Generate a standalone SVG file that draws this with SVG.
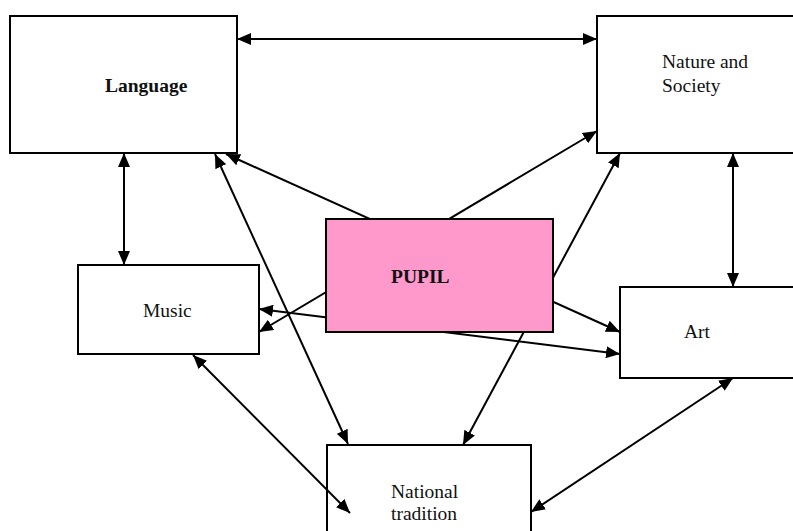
<svg xmlns="http://www.w3.org/2000/svg" width="793" height="531" viewBox="0 0 793 531">
  <style>
    .box { fill: #ffffff; stroke: #000000; stroke-width: 2; }
    .pupil { fill: #ff99cc; stroke: #000000; stroke-width: 2; }
    .lbl { font-family: "Liberation Serif", "Times New Roman", serif; font-size: 19.5px; fill: #111111; }
    .bold { font-weight: bold; }
    .link { stroke: #000000; stroke-width: 2; fill: none; marker-start: url(#head); marker-end: url(#head); }
  </style>
  <defs>
    <marker id="head" viewBox="0 0 14 12" refX="14" refY="6" markerWidth="14" markerHeight="12" markerUnits="userSpaceOnUse" orient="auto-start-reverse">
      <path d="M0,0 L14,6 L0,12 Z" fill="#000000"/>
    </marker>
  </defs>

  <!-- outer subject boxes -->
  <g id="language">
    <rect class="box" x="10" y="16" width="227" height="137"/>
    <text class="lbl bold" x="105" y="92">Language</text>
  </g>
  <g id="nature-society">
    <rect class="box" x="597" y="16" width="260" height="137"/>
    <text class="lbl" x="662" y="68">Nature and</text>
    <text class="lbl" x="662" y="92">Society</text>
  </g>
  <g id="music">
    <rect class="box" x="78" y="265" width="181" height="89"/>
    <text class="lbl" x="143" y="317">Music</text>
  </g>
  <g id="art">
    <rect class="box" x="620" y="287" width="240" height="91"/>
    <text class="lbl" x="684" y="338">Art</text>
  </g>
  <g id="national-tradition">
    <rect class="box" x="327" y="445" width="204" height="120"/>
    <text class="lbl" x="391" y="498">National</text>
    <text class="lbl" x="391" y="520">tradition</text>
  </g>

  <!-- two-way links between subjects -->
  <g id="connectors">
    <line class="link" x1="237" y1="39" x2="597" y2="39"/>
    <line class="link" x1="124" y1="153" x2="124" y2="265"/>
    <line class="link" x1="733" y1="153" x2="733" y2="287"/>
    <line class="link" x1="226" y1="154" x2="620" y2="332"/>
    <line class="link" x1="259" y1="332" x2="597" y2="131"/>
    <line class="link" x1="259" y1="309" x2="620" y2="354"/>
    <line class="link" x1="215" y1="154" x2="348" y2="444"/>
    <line class="link" x1="620" y1="153" x2="463" y2="445"/>
    <line class="link" x1="193" y1="355" x2="350" y2="513"/>
    <line class="link" x1="733" y1="378" x2="531" y2="512"/>
  </g>

  <!-- central node, drawn over the crossing links -->
  <g id="pupil">
    <rect class="pupil" x="326" y="219" width="227" height="113"/>
    <text class="lbl bold" x="391" y="283">PUPIL</text>
  </g>
</svg>
